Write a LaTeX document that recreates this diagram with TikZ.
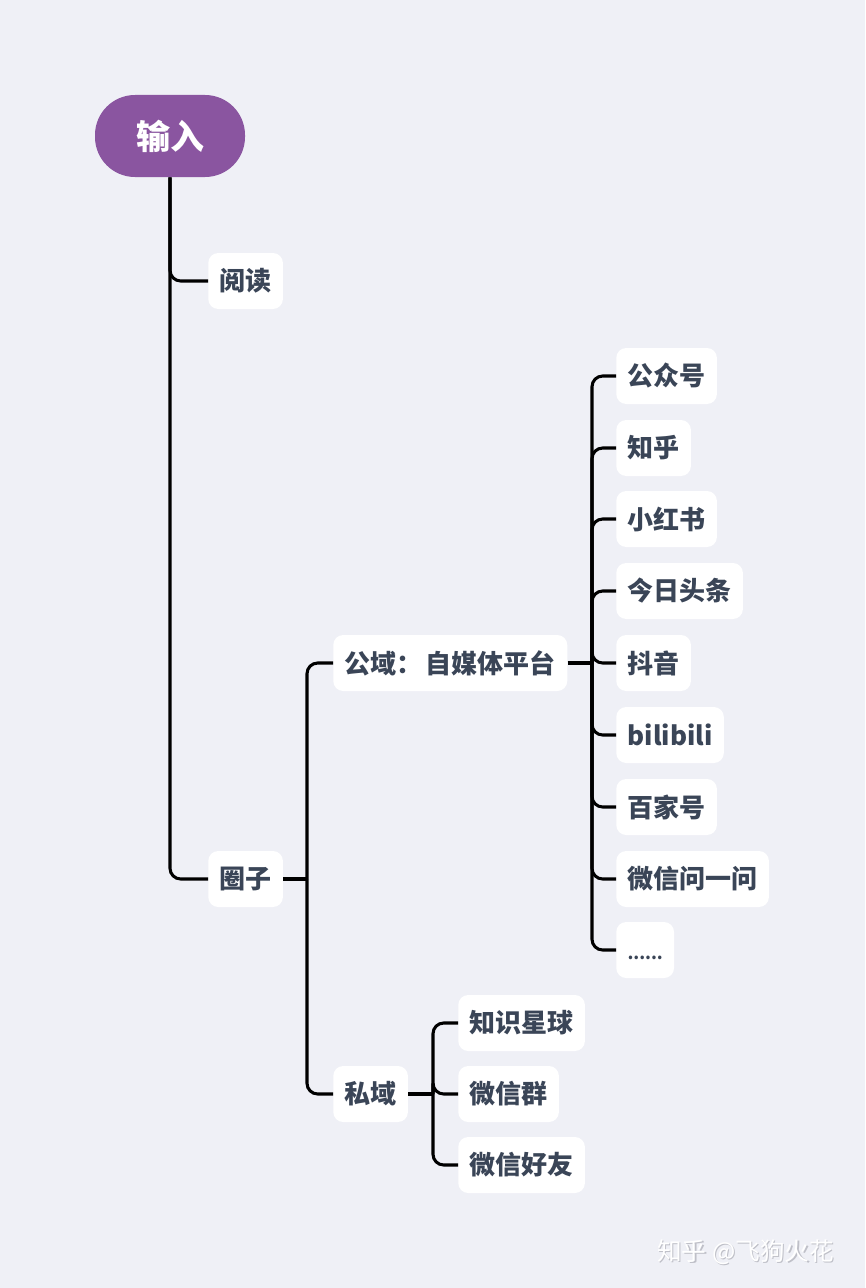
\documentclass[tikz,border=0pt]{standalone}
\usepackage{fontspec}
\newfontfamily\cjk{Noto Sans CJK SC}
\definecolor{bg}{HTML}{EFF0F6}
\definecolor{purp}{HTML}{8A55A0}
\definecolor{txt}{HTML}{3A4557}
\definecolor{wmshadow}{HTML}{BFC0C8}
\tikzset{
  item/.style={fill=white, rounded corners=7.5pt, minimum height=42pt, inner xsep=8.5pt, inner ysep=0pt,
    anchor=west, text=txt, font=\cjk\bfseries\fontsize{19.5pt}{22pt}\selectfont},
  rootbox/.style={fill=purp, rounded corners=30pt, minimum width=112.5pt, minimum height=61.5pt,
    text=white, font=\cjk\bfseries\fontsize{25.5pt}{28pt}\selectfont},
  link/.style={draw=black, line width=2.3pt, rounded corners=8pt},
  wm/.style={font=\cjk\fontsize{18.5pt}{20pt}\selectfont, inner sep=0pt}
}
\begin{document}
\begin{tikzpicture}[x=0.75pt,y=-0.75pt]
\useasboundingbox[fill=bg] (0,0) rectangle (865,1288);

\node[rootbox] (root) at (170,136) {输入};
\node[item] (yuedu) at (208,281) {阅读};
\node[item] (quanzi) at (208,879) {圈子};
\node[item] (gongyu) at (333,663) {公域：\hspace{2.5pt}自媒体平台};
\node[item] (siyu) at (333,1094) {私域};

\node[item] (g1) at (616,376) {公众号};
\node[item] (g2) at (616,448) {知乎};
\node[item] (g3) at (616,519) {小红书};
\node[item] (g4) at (616,591) {今日头条};
\node[item] (g5) at (616,663) {抖音};
\node[item] (g6) at (616,735) {bilibili};
\node[item] (g7) at (616,807) {百家号};
\node[item] (g8) at (616,879) {微信问一问};
\node[item] (g9) at (616,950) {\vphantom{阅}{\fontsize{12.5pt}{14pt}\selectfont ......}};

\node[item] (s1) at (458,1023) {知识星球};
\node[item] (s2) at (458,1094) {微信群};
\node[item] (s3) at (458,1165) {微信好友};

% trunk
\draw[link] (root.south) |- (yuedu.west);
\draw[link] (root.south) |- (quanzi.west);

% quanzi branch
\coordinate (qj) at (307,879);
\draw[link] (quanzi.east) -- (qj);
\draw[link] (qj) |- (gongyu.west);
\draw[link] (qj) |- (siyu.west);

% gongyu branch
\coordinate (gj) at (592,663);
\draw[link] (gongyu.east) -- (gj);
\foreach \n in {g1,g2,g3,g4,g5,g6,g7,g8,g9}{
  \draw[link] (gj) |- (\n.west);
}

% siyu branch
\coordinate (sj) at (433,1094);
\draw[link] (siyu.east) -- (sj);
\foreach \n in {s1,s2,s3}{
  \draw[link] (sj) |- (\n.west);
}

% watermark
\node[wm, text=wmshadow, anchor=west] (wms) at (658.5,1253.5) {知乎 @飞狗火花};
\node[wm, text=white, anchor=west] (wmt) at (657,1252) {知乎 @飞狗火花};
\end{tikzpicture}
\end{document}
